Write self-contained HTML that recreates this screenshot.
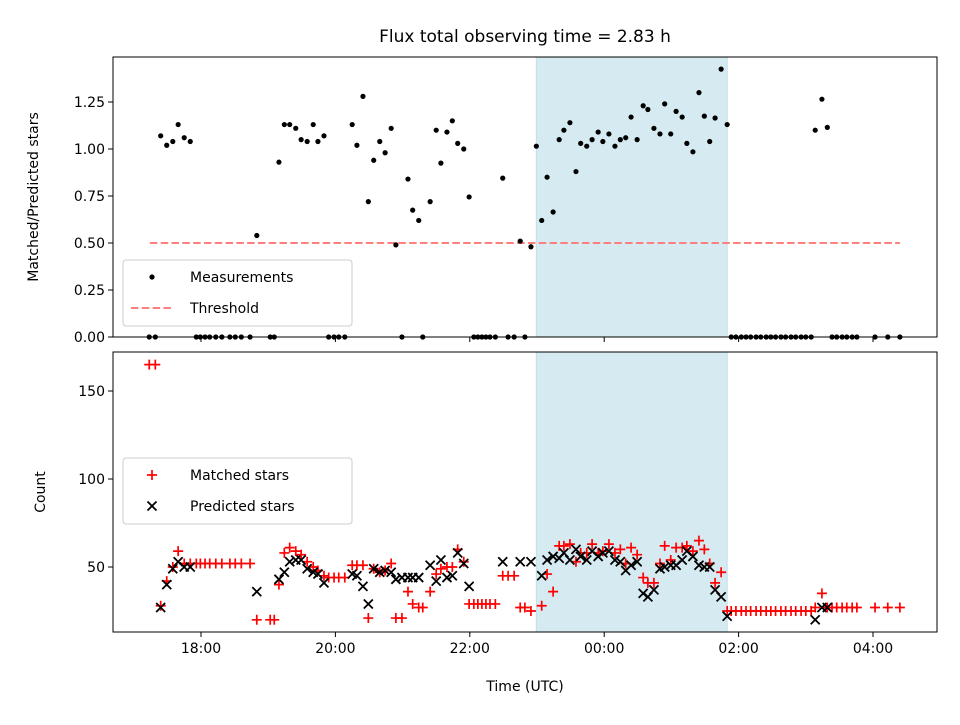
<!DOCTYPE html>
<html><head><meta charset="utf-8"><style>
body{margin:0;background:#fff;}
text{font-family:"DejaVu Sans","Liberation Sans",sans-serif;fill:#000;}
</style></head><body>
<svg id="chart" width="960" height="720" viewBox="0 0 960 720" xmlns="http://www.w3.org/2000/svg">
<rect width="960" height="720" fill="#fff"/>
<g id="topPanel"></g><g id="botPanel"></g>
</svg>
<script>
// data (times in hours; >24 = next day)
const ratioTimes=[17.40,17.49,17.58,17.66,17.75,17.84,18.83,19.16,19.24,19.32,19.41,19.49,19.58,19.67,19.74,19.83,20.25,20.32,20.41,20.49,20.57,20.66,20.74,20.83,20.90,21.08,21.15,21.24,21.41,21.50,21.57,21.66,21.74,21.82,21.91,21.99,22.49,22.75,22.91,22.99,23.07,23.15,23.24,23.33,23.40,23.49,23.58,23.65,23.74,23.82,23.91,23.98,24.07,24.16,24.24,24.32,24.40,24.49,24.58,24.65,24.74,24.83,24.90,24.99,25.07,25.16,25.23,25.32,25.41,25.49,25.57,25.65,25.74,25.83,27.14,27.24,27.32];
const ratioValues=[1.07,1.02,1.04,1.13,1.06,1.04,0.54,0.93,1.13,1.13,1.11,1.05,1.04,1.13,1.04,1.07,1.13,1.02,1.28,0.72,0.94,1.04,0.98,1.11,0.49,0.84,0.675,0.62,0.72,1.10,0.925,1.09,1.15,1.03,1.00,0.745,0.845,0.51,0.48,1.015,0.62,0.85,0.665,1.05,1.10,1.14,0.88,1.03,1.015,1.05,1.09,1.04,1.08,1.015,1.05,1.06,1.17,1.05,1.23,1.21,1.11,1.08,1.24,1.08,1.20,1.17,1.03,0.985,1.30,1.175,1.04,1.165,1.425,1.13,1.10,1.265,1.115];
const zeroTimes=[17.23,17.32,17.93,17.99,18.06,18.13,18.22,18.31,18.43,18.51,18.60,18.73,19.03,19.09,19.90,19.98,20.05,20.14,20.99,21.30,22.06,22.12,22.18,22.24,22.30,22.38,22.57,22.66,22.82,25.89,25.96,26.04,26.11,26.18,26.26,26.33,26.41,26.48,26.55,26.63,26.70,26.78,26.85,26.93,27.00,27.08,27.39,27.46,27.54,27.61,27.69,27.76,28.03,28.22,28.40];
const matchedTimes=[17.23,17.32,17.40,17.49,17.58,17.66,17.75,17.84,17.93,17.99,18.06,18.13,18.22,18.31,18.43,18.51,18.60,18.73,18.83,19.03,19.09,19.16,19.24,19.32,19.41,19.49,19.58,19.67,19.74,19.83,19.90,19.98,20.05,20.14,20.25,20.32,20.41,20.49,20.57,20.66,20.74,20.83,20.90,20.99,21.08,21.15,21.24,21.30,21.41,21.50,21.57,21.66,21.74,21.82,21.91,21.99,22.06,22.12,22.18,22.24,22.30,22.38,22.49,22.57,22.66,22.75,22.82,22.91,23.07,23.15,23.24,23.33,23.40,23.49,23.58,23.65,23.74,23.82,23.91,23.98,24.07,24.16,24.24,24.32,24.40,24.49,24.58,24.65,24.74,24.83,24.90,24.99,25.07,25.16,25.23,25.32,25.41,25.49,25.57,25.65,25.74,25.83,25.89,25.96,26.04,26.11,26.18,26.26,26.33,26.41,26.48,26.55,26.63,26.70,26.78,26.85,26.93,27.00,27.08,27.14,27.24,27.32,27.39,27.46,27.54,27.61,27.69,27.76,28.03,28.22,28.40];
const matchedValues=[165,165,28,42,50,59,52,52,52,52,52,52,52,52,52,52,52,52,20,20,20,40,58,61,59,57,53,50,48,45,44,44,44,44,51,51,51,21,49,47,48,52,21,21,36,29,27,27,36,46,49,50,50,60,53,29,29,29,29,29,29,29,45,45,45,27,27,25,28,46,36,62,62,63,53,58,58,63,58,59,63,58,60,52,61,57,44,41,41,52,62,54,61,61,62,59,65,60,52,41,47,25,25,25,25,25,25,25,25,25,25,25,25,25,25,25,25,25,25,27,35,27,27,27,27,27,27,27,27,27,27];
const predictedTimes=[17.40,17.49,17.58,17.66,17.75,17.84,18.83,19.16,19.24,19.32,19.41,19.49,19.58,19.67,19.74,19.83,20.25,20.32,20.41,20.49,20.57,20.66,20.74,20.83,20.90,20.99,21.08,21.15,21.24,21.41,21.50,21.57,21.66,21.74,21.82,21.91,21.99,22.49,22.75,22.91,23.07,23.15,23.24,23.33,23.40,23.49,23.58,23.65,23.74,23.82,23.91,23.98,24.07,24.16,24.24,24.32,24.40,24.49,24.58,24.65,24.74,24.83,24.90,24.99,25.07,25.16,25.23,25.32,25.41,25.49,25.57,25.65,25.74,25.83,27.14,27.24,27.32];
const predictedValues=[27,40,49,53,50,50,36,43,47,53,54,54,49,47,46,41,46,45,39,29,49,47,48,47,43,44,44,44,44,51,42,54,44,45,58,52,39,53,53,53,45,54,56,55,58,54,60,56,54,59,56,58,59,54,53,48,51,53,35,33,37,49,50,51,51,54,59,56,51,50,50,37,33,22,20,27,27];
const threshold=0.5, thrStart=17.24, thrEnd=28.40;
const spanStart=22.99, spanEnd=25.83;
const xTicks=[18,20,22,24,26,28];
const xTickLabels=["18:00","20:00","22:00","00:00","02:00","04:00"];
const topTicks=[0,0.25,0.5,0.75,1.0,1.25];
const topTickLabels=["0.00","0.25","0.50","0.75","1.00","1.25"];
const botTicks=[50,100,150];
const botTickLabels=["50","100","150"];

const NS="http://www.w3.org/2000/svg";
const L=113,R=937,T1=57,B1=337,T2=352,B2=632;
const X=h=>201+(h-18)*67.2;
const Y1=v=>337-v*188;
const Y2=v=>567-(v-50)*1.76;
function mk(parent,tag,attrs,txt){const e=document.createElementNS(NS,tag);for(const k in attrs)e.setAttribute(k,attrs[k]);if(txt!==undefined)e.textContent=txt;parent.appendChild(e);return e;}
const topG=document.getElementById('topPanel'),botG=document.getElementById('botPanel');





[[topG,T1,B1],[botG,T2,B2]].forEach(([g,t,b])=>{
  const s=mk(g,'rect',{x:X(spanStart),y:t,width:X(spanEnd)-X(spanStart),height:b-t,fill:'#d5eaf1',stroke:'#bfe0ea','stroke-width':1});
  
  
});
const th=mk(topG,'line',{x1:X(thrStart),x2:X(thrEnd),y1:Y1(threshold),y2:Y1(threshold),stroke:'#ff7f7f','stroke-width':2,'stroke-dasharray':'7.5,3.3'});


ratioTimes.forEach((h,i)=>{const c=mk(topG,'circle',{cx:X(h),cy:Y1(ratioValues[i]),r:2.6,fill:'#000'});

});
zeroTimes.forEach(h=>{const c=mk(topG,'circle',{cx:X(h),cy:Y1(0),r:2.6,fill:'#000'});

});
matchedTimes.forEach((h,i)=>{const x=X(h),y=Y2(matchedValues[i]);
const p=mk(botG,'path',{d:`M${x-5},${y}H${x+5}M${x},${y-5}V${y+5}`,stroke:'#f00','stroke-width':1.7,fill:'none'});

});
predictedTimes.forEach((h,i)=>{const x=X(h),y=Y2(predictedValues[i]);
const p=mk(botG,'path',{d:`M${x-4.5},${y-4.5}L${x+4.5},${y+4.5}M${x-4.5},${y+4.5}L${x+4.5},${y-4.5}`,stroke:'#000','stroke-width':1.8,fill:'none'});

});

[[topG,T1,B1,false],[botG,T2,B2,true]].forEach(([g,t,b,lab])=>{
  const f=mk(g,'rect',{x:L,y:t,width:R-L,height:b-t,fill:'none',stroke:'#000','stroke-width':1});
  
  
  xTicks.forEach((h,i)=>{mk(g,'line',{x1:X(h),x2:X(h),y1:b,y2:b+5,stroke:'#000','stroke-width':1});
    if(lab){const tx=mk(g,'text',{x:X(h),y:b+21,'text-anchor':'middle','font-size':14},xTickLabels[i]);
    
    }});
});
topTicks.forEach((v,i)=>{mk(topG,'line',{x1:L-5,x2:L,y1:Y1(v),y2:Y1(v),stroke:'#000'});
const t=mk(topG,'text',{x:L-8,y:Y1(v)+5,'text-anchor':'end','font-size':14},topTickLabels[i]);

});
botTicks.forEach((v,i)=>{mk(botG,'line',{x1:L-5,x2:L,y1:Y2(v),y2:Y2(v),stroke:'#000'});
const t=mk(botG,'text',{x:L-8,y:Y2(v)+5,'text-anchor':'end','font-size':14},botTickLabels[i]);

});

function legend(g,y0,items){
  const box=mk(g,'rect',{x:123,y:y0,width:229,height:66,rx:3,fill:'#fff','fill-opacity':0.8,stroke:'#ccc'});
  
  
  items.forEach((it,i)=>{const yy=y0+17+i*31;it.draw(152,yy);
    const t=mk(g,'text',{x:190,y:yy+5,'font-size':14},it.label);
    
    });
}
legend(topG,260,[{label:'Measurements',draw:(x,y)=>mk(topG,'circle',{cx:x,cy:y,r:2.6,fill:'#000'})},
 {label:'Threshold',draw:(x,y)=>mk(topG,'line',{x1:x-21,x2:x+21,y1:y,y2:y,stroke:'#ff7f7f','stroke-width':2,'stroke-dasharray':'7.5,3.3'})}]);
legend(botG,458,[{label:'Matched stars',draw:(x,y)=>mk(botG,'path',{d:`M${x-5},${y}H${x+5}M${x},${y-5}V${y+5}`,stroke:'#f00','stroke-width':1.7})},
 {label:'Predicted stars',draw:(x,y)=>mk(botG,'path',{d:`M${x-4.5},${y-4.5}L${x+4.5},${y+4.5}M${x-4.5},${y+4.5}L${x+4.5},${y-4.5}`,stroke:'#000','stroke-width':1.8})}]);

const svg=document.getElementById('chart');
const title=mk(svg,'text',{x:525,y:42,'text-anchor':'middle','font-size':17},'Flux total observing time = 2.83 h');


const yl1=mk(svg,'text',{x:0,y:0,'text-anchor':'middle','font-size':14,transform:'translate(38,197) rotate(-90)'},'Matched/Predicted stars');


const yl2=mk(svg,'text',{x:0,y:0,'text-anchor':'middle','font-size':14,transform:'translate(45,492) rotate(-90)'},'Count');


const xl=mk(svg,'text',{x:525,y:691,'text-anchor':'middle','font-size':14},'Time (UTC)');


</script>
</body></html>
